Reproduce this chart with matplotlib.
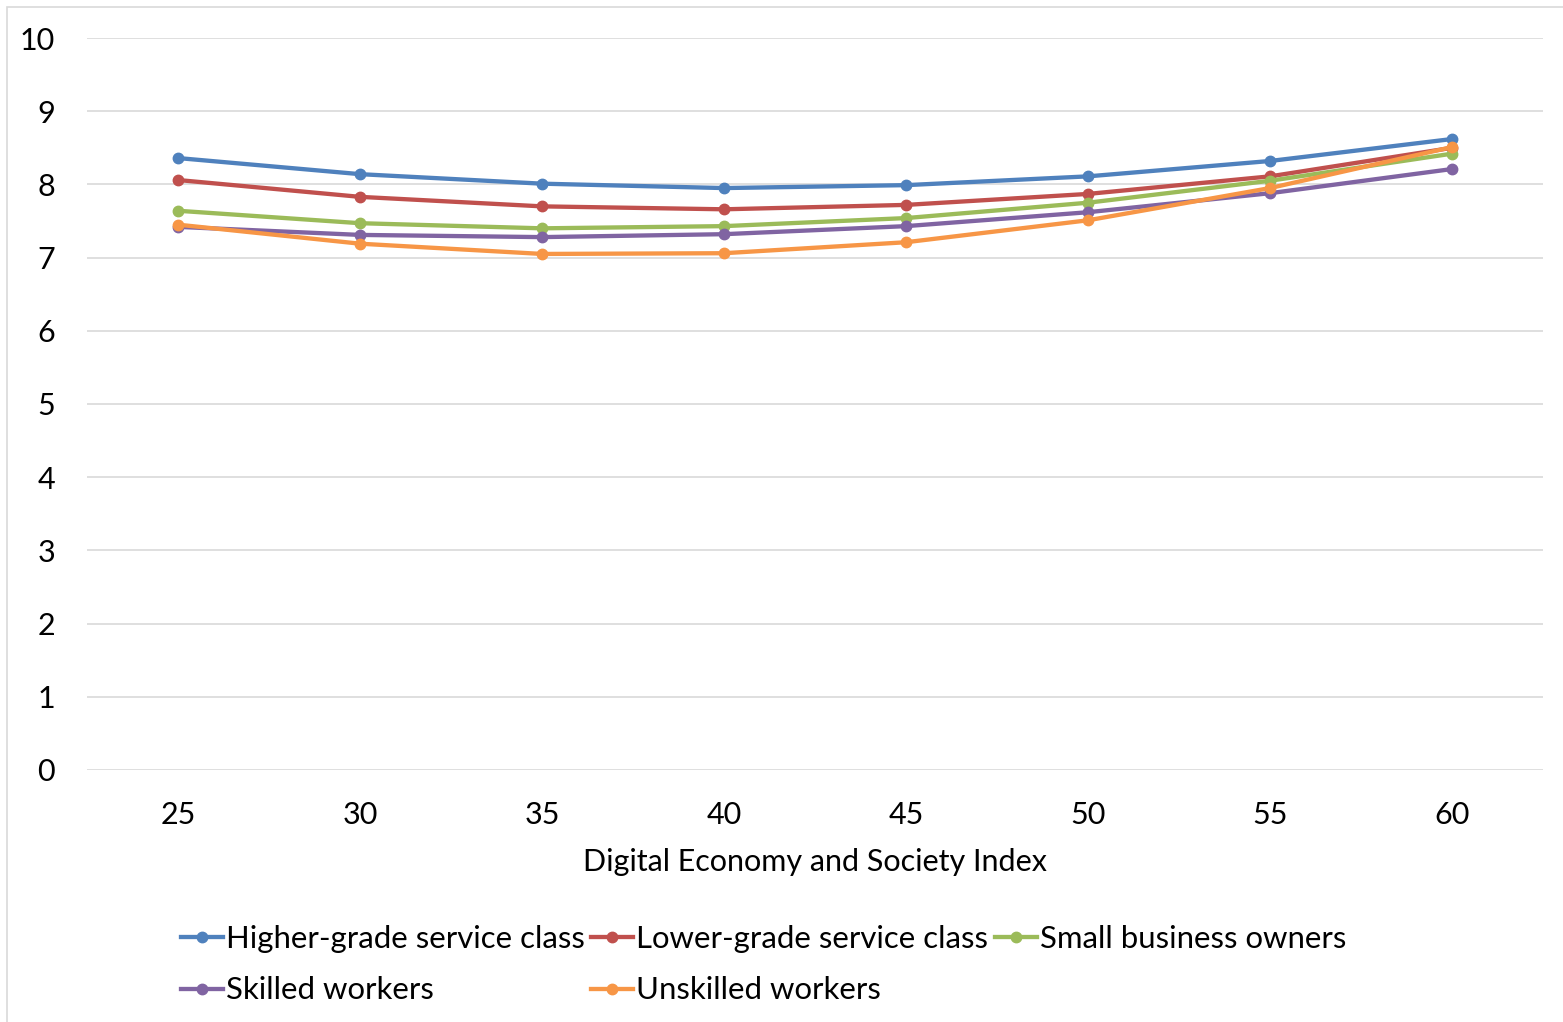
import matplotlib.pyplot as plt
import matplotlib.patches as patches

plt.rcParams['font.family'] = ['Lato', 'DejaVu Sans']

desi = ['25', '30', '35', '40', '45', '50', '55', '60']

higher = [8.36, 8.14, 8.01, 7.95, 7.99, 8.11, 8.32, 8.62]
lower = [8.06, 7.83, 7.70, 7.66, 7.72, 7.87, 8.11, 8.50]
small_business = [7.64, 7.47, 7.40, 7.43, 7.54, 7.75, 8.05, 8.42]
skilled = [7.42, 7.31, 7.28, 7.32, 7.43, 7.62, 7.88, 8.21]
unskilled = [7.45, 7.19, 7.05, 7.06, 7.21, 7.51, 7.95, 8.51]

series = [
    ('Higher-grade service class', higher, '#4F81BD'),
    ('Lower-grade service class', lower, '#C0504D'),
    ('Small business owners', small_business, '#9BBB59'),
    ('Skilled workers', skilled, '#8064A2'),
    ('Unskilled workers', unskilled, '#F79646'),
]

fig = plt.figure(figsize=(15.63, 10.22), dpi=100)
ax = fig.add_axes([0.0557, 0.2466, 0.9315, 0.7162])

x = list(range(len(desi)))
lines = {}
for name, vals, color in series:
    ln, = ax.plot(x, vals, color=color, linewidth=3.1, marker='o',
                  markersize=7.5, label=name)
    lines[name] = ln

ax.set_xlim(-0.5, len(desi) - 0.5)
ax.set_ylim(0, 10)
ax.set_yticks(range(0, 11))
ax.set_xticks(x)
ax.set_xticklabels(desi)
ax.tick_params(axis='both', length=0, labelsize=22, colors='black')
ax.tick_params(axis='y', pad=23)
ax.tick_params(axis='x', pad=22)
for s in ax.spines.values():
    s.set_visible(False)
ax.grid(axis='y', color='#D9D9D9', linewidth=1.2)
ax.set_axisbelow(True)
ax.set_xlabel('Digital Economy and Society Index', fontsize=22, labelpad=14)

order = ['Higher-grade service class', 'Skilled workers',
         'Lower-grade service class', 'Unskilled workers',
         'Small business owners']
ax.legend([lines[n] for n in order], order, ncol=3, frameon=False,
          fontsize=22.4, loc='upper left', bbox_to_anchor=(0.056, -0.195),
          handlelength=1.35, handletextpad=0.1, columnspacing=0.2,
          labelspacing=0.75, borderaxespad=0)

fig.patches.append(patches.Rectangle((0.0045, -0.01), 1.0, 1.003,
                                     transform=fig.transFigure, fill=False,
                                     edgecolor='#D9D9D9', linewidth=1.2))

plt.savefig('out.png', dpi=100)
